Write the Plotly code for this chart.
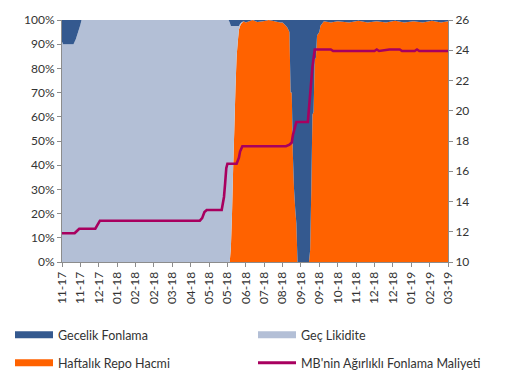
import plotly.graph_objects as go

# ---------------- data ----------------
tick_days = [0, 16, 32, 48, 64, 80, 96, 112, 128, 144, 160, 176, 192, 208, 224, 240, 256, 272, 288, 304, 320, 336]
tick_labels = ["11-17", "11-17", "12-17", "01-18", "02-18", "02-18", "03-18", "04-18", "05-18", "05-18", "06-18",
               "07-18", "08-18", "09-18", "09-18", "10-18", "11-18", "12-18", "12-18", "01-19", "02-19", "03-19"]
pct_ticks = [0, 10, 20, 30, 40, 50, 60, 70, 80, 90, 100]
pct_labels = ["0%", "10%", "20%", "30%", "40%", "50%", "60%", "70%", "80%", "90%", "100%"]
rate_ticks = [10, 12, 14, 16, 18, 20, 22, 24, 26]

# business-day index of each observation
day = [0, 1, 10, 12, 14, 16, 17, 145, 146, 147, 148, 149, 150, 151, 152, 153, 154, 155, 156, 158, 160, 163,
       166, 170, 175, 180, 185, 190, 192, 194, 196, 198, 199, 200, 201, 202, 203, 204, 205, 215, 216, 217,
       218, 219, 220, 221, 222, 224, 225, 228, 234, 240, 250, 258, 266, 274, 282, 290, 298, 306, 314, 322,
       330, 336]
gecelik = [9, 10, 10, 8, 5, 2, 0, 0, 1, 2.5, 2.5, 2.5, 2.5, 2.5, 2.5, 2.5, 2.5, 1.5, 1, 0.5, 1, 0.5,
           0, 0.8, 0.5, 0, 0.5, 1, 1, 2, 3, 5, 30, 30, 56, 70, 78, 84, 100, 100, 95, 70,
           39, 38, 16, 16, 6.4, 5, 2.4, 0.5, 1, 0.5, 1, 0.3, 1, 0.5, 1, 0.3, 1, 0.5, 1, 0.3,
           1, 0.5]
gec_likidite = [91, 90, 90, 92, 95, 98, 100, 100, 99, 91.5, 77.5, 58.5, 42.5, 25.5, 12.5, 6.5, 1.5, 1, 0.5, 0, 0, 0,
                0, 0, 0, 0, 0, 0, 0, 0, 0, 0, 0, 0, 0, 0, 0, 0, 0, 0, 0, 0,
                0, 0, 0, 0, 0, 0, 0, 0, 0, 0, 0, 0, 0, 0, 0, 0, 0, 0, 0, 0,
                0, 0]
haftalik_repo = [0, 0, 0, 0, 0, 0, 0, 0, 0, 6, 20, 39, 55, 72, 85, 91, 96, 97.5, 98.5, 99.5, 99, 99.5,
                 100, 99.2, 99.5, 100, 99.5, 99, 99, 98, 97, 95, 70, 70, 44, 30, 22, 16, 0, 0, 5, 30,
                 61, 62, 84, 84, 93.6, 95, 97.6, 99.5, 99, 99.5, 99, 99.7, 99, 99.5, 99, 99.7, 99, 99.5, 99, 99.7,
                 99, 99.5]

line_day = [0, 11, 13, 15, 29, 31, 33, 120, 122, 124, 126, 139, 141, 142, 143, 144, 152, 154, 155, 157,
            195, 198, 200, 201, 203, 204, 214, 216, 218, 220, 234, 236, 272, 274, 276, 285, 294, 296,
            307, 309, 311, 336]
maliyet = [11.9, 11.9, 12.05, 12.2, 12.2, 12.5, 12.73, 12.73, 12.9, 13.3, 13.44, 13.44, 14.3, 15.2, 16.2, 16.5,
           16.5, 16.9, 17.3, 17.65, 17.65, 17.75, 17.9, 18.4, 19.0, 19.26, 19.26, 21.2, 22.9, 24.05, 24.05,
           23.95, 23.95, 24.05, 23.95, 24.05, 24.05, 23.95, 23.95, 24.05, 23.95, 23.95]

names = ["Gecelik Fonlama", "Geç Likidite", "Haftalık Repo Hacmi", "MB'nin Ağırlıklı Fonlama Maliyeti"]
colors = ["#34598F", "#B3BFD6", "#FF6200", "#A8005F"]

FONT = "Lato, 'Noto Sans', sans-serif"
TXT = "#333333"
AX = "#8C8C8C"

fig = go.Figure()

# stacked 100% areas (bottom to top: repo, late liquidity, overnight)
for vals, nm, col in [(haftalik_repo, names[2], colors[2]),
                      (gec_likidite, names[1], colors[1]),
                      (gecelik, names[0], colors[0])]:
    fig.add_trace(go.Scatter(x=day, y=vals, name=nm, stackgroup="s", groupnorm="percent",
                             mode="none", fillcolor=col, line=dict(width=0),
                             showlegend=False, hoverinfo="skip"))

fig.add_trace(go.Scatter(x=line_day, y=maliyet, name=names[3], mode="lines", yaxis="y2",
                         line=dict(color=colors[3], width=2.6), showlegend=False))

# legend entries (one legend per entry for exact placement)
leg_ids = ["legend", "legend2", "legend3", "legend4"]
for i, (nm, col) in enumerate(zip(names, colors)):
    fig.add_trace(go.Scatter(x=[None], y=[None], mode="lines", name=nm,
                             line=dict(color=col, width=7 if i < 3 else 3),
                             legend=leg_ids[i], showlegend=True))

leg_pos = [(10, 335), (253, 335), (10, 363), (253, 363)]
W, H = 507, 376
legends = {}
for lid, (px, py) in zip(leg_ids, leg_pos):
    legends[lid] = dict(x=px / W, y=1 - py / H, xref="container", yref="container",
                        xanchor="left", yanchor="middle", orientation="h",
                        bgcolor="rgba(0,0,0,0)", borderwidth=0,
                        font=dict(family=FONT, size=12.5, color=TXT), itemwidth=38)

axis_common = dict(ticks="outside", ticklen=4, tickcolor=AX, showline=True, linecolor=AX,
                   linewidth=1, showgrid=False, zeroline=False,
                   tickfont=dict(family=FONT, size=12, color=TXT))

fig.update_layout(
    width=W, height=H,
    margin=dict(l=62, r=59, t=12, b=114),
    paper_bgcolor="white", plot_bgcolor="white",
    font=dict(family=FONT, size=12, color=TXT),
    xaxis=dict(range=[0, 336], tickmode="array", tickvals=tick_days, ticktext=tick_labels,
               tickangle=-90, **axis_common),
    yaxis=dict(range=[0, 100], tickmode="array", tickvals=pct_ticks, ticktext=pct_labels,
               **axis_common),
    yaxis2=dict(range=[10, 26], tickmode="array", tickvals=rate_ticks,
                ticktext=[str(v) for v in rate_ticks], overlaying="y", side="right",
                **axis_common),
    **legends,
)

fig.write_html("out.html")
